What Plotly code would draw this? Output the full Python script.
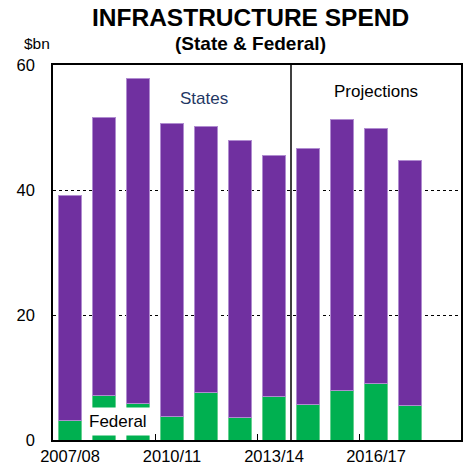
import plotly.graph_objects as go

years = ["2007/08", "2008/09", "2009/10", "2010/11", "2011/12", "2012/13",
         "2013/14", "2014/15", "2015/16", "2016/17", "2017/18"]
federal = [3.1, 7.15, 5.9, 3.7, 7.6, 3.6, 6.9, 5.7, 8.0, 9.1, 5.6]
states = [36.0, 44.45, 52.0, 47.0, 42.5, 44.3, 38.6, 41.0, 43.3, 40.8, 39.2]
n_actual = 7  # years before projections
label_idx = [0, 3, 6, 9]

FONT = "Liberation Sans, Arial, sans-serif"
x = list(range(len(years)))

fig = go.Figure()
fig.add_trace(go.Bar(x=x, y=federal, name="Federal",
                     marker=dict(color="#00B050", line=dict(color="#66D08F", width=1))))
fig.add_trace(go.Bar(x=x, y=states, name="States",
                     marker=dict(color="#7030A0", line=dict(color="#B08CD0", width=1))))

fig.add_shape(type="line", xref="x", yref="paper", x0=n_actual - 0.5, x1=n_actual - 0.5,
              y0=0, y1=1, line=dict(color="black", width=1.5))

fig.update_layout(
    width=466, height=469,
    margin=dict(l=53, r=3, t=65, b=29),
    barmode="stack", bargap=0.33,
    plot_bgcolor="white", paper_bgcolor="white",
    showlegend=False,
    font=dict(family=FONT, size=16, color="black"),
    xaxis=dict(range=[-0.5, len(years) + 0.5], tickvals=label_idx,
               ticktext=[years[i] for i in label_idx], ticks="",
               showline=True, linecolor="black", linewidth=1.5, mirror=True,
               showgrid=False, zeroline=False,
               tickfont=dict(size=16.5),
               minor=dict(tickvals=[i - 0.5 for i in label_idx[1:]], ticks="inside",
                          ticklen=6, tickcolor="black", tickwidth=1, showgrid=False)),
    yaxis=dict(range=[0, 60], tickvals=[0, 20, 40, 60], ticks="",
               showline=True, linecolor="black", linewidth=1.5, mirror=True,
               showgrid=True, gridcolor="black", griddash="dot", gridwidth=1,
               zeroline=False, tickfont=dict(size=16.5), ticklabelstandoff=13),
    annotations=[
        dict(text="<b>INFRASTRUCTURE SPEND</b>", xref="paper", yref="paper", x=0.485, y=1.126,
             showarrow=False, font=dict(size=24.5), xanchor="center", yanchor="middle"),
        dict(text="<b>(State &amp; Federal)</b>", xref="paper", yref="paper", x=0.485, y=1.056,
             showarrow=False, font=dict(size=19), xanchor="center", yanchor="middle"),
        dict(text="$bn", xref="paper", yref="paper", x=-0.04, y=1.056,
             showarrow=False, font=dict(size=15.5), xanchor="center", yanchor="middle"),
        dict(text="States", xref="x", yref="y", x=3.95, y=54.7, showarrow=False,
             font=dict(size=17, color="#1F3864")),
        dict(text="Projections", xref="x", yref="y", x=9.0, y=55.7, showarrow=False,
             font=dict(size=17, color="black")),
        dict(text="Federal", xref="x", yref="y", x=1.4, y=2.9, showarrow=False,
             font=dict(size=17, color="black"), bgcolor="white", borderpad=4),
    ],
)

fig.write_html("out.html")
